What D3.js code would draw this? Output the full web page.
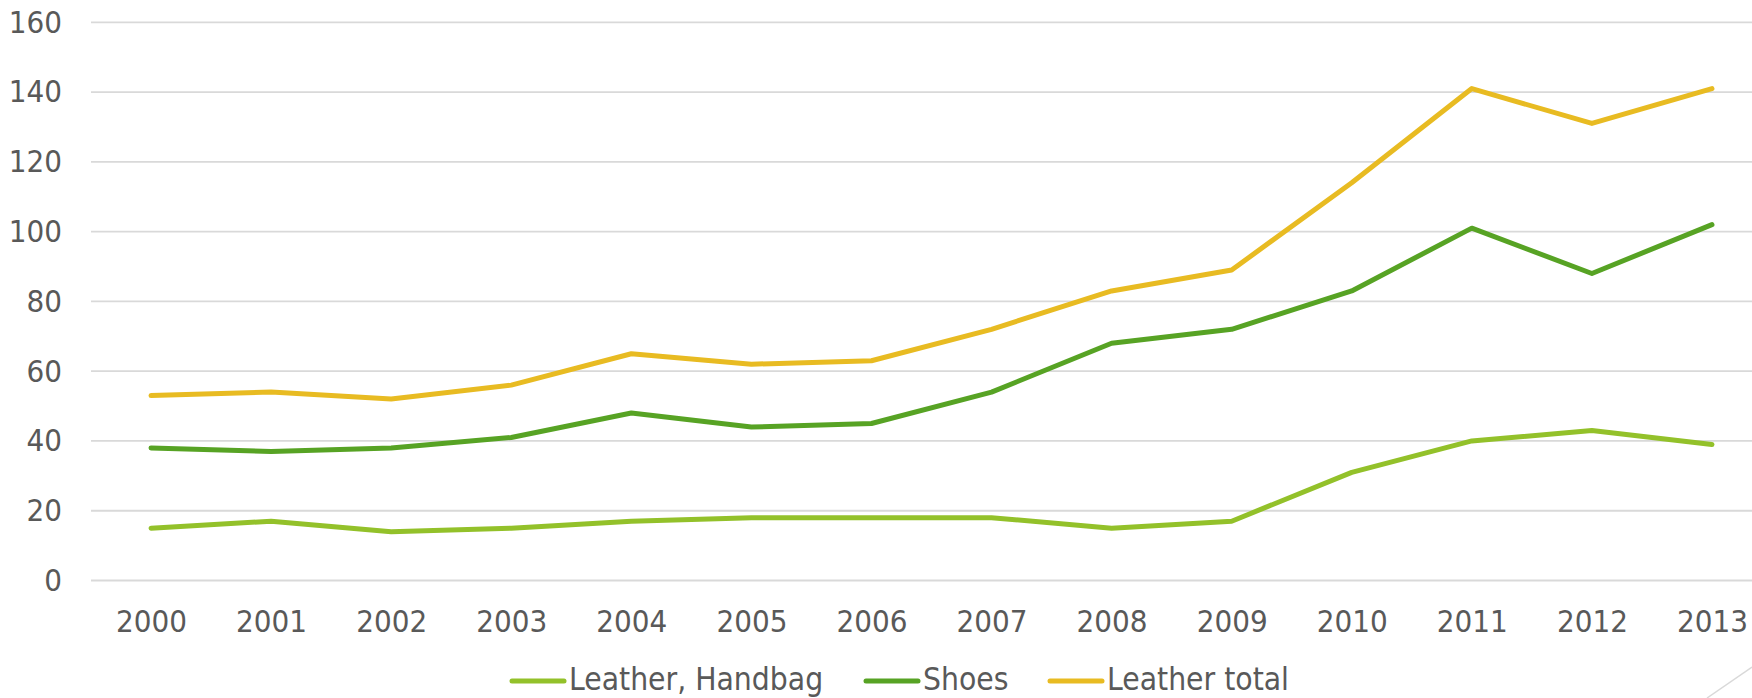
<!DOCTYPE html>
<html>
<head>
<meta charset="utf-8">
<script src="https://cdn.jsdelivr.net/npm/d3@7"></script>
<style>
  html, body { margin: 0; padding: 0; background: #fff; }
  svg { display: block; }
  text { font-family: "DejaVu Sans Condensed", "DejaVu Sans", sans-serif; fill: #595959; }
</style>
</head>
<body>
<svg id="chart" width="1752" height="698"></svg>
<script>
const years = ["2000","2001","2002","2003","2004","2005","2006","2007","2008","2009","2010","2011","2012","2013"];
const handbag = [15, 17, 14, 15, 17, 18, 18, 18, 15, 17, 31, 40, 43, 39];
const shoes = [38, 37, 38, 41, 48, 44, 45, 54, 68, 72, 83, 101, 88, 102];
const leatherTotal = [53, 54, 52, 56, 65, 62, 63, 72, 83, 89, 114, 141, 131, 141];
const yTicks = [0, 20, 40, 60, 80, 100, 120, 140, 160];
const seriesNames = ["Leather, Handbag", "Shoes", "Leather total"];
const seriesColors = ["#93c12a", "#57a324", "#e8bb22"];

const series = [handbag, shoes, leatherTotal].map((vals, i) => ({
  name: seriesNames[i], color: seriesColors[i], values: vals
}));

const W = 1752, H = 698;
const plotLeft = 91, plotRight = 1772, plotTop = 22.3, plotBottom = 580.5;
const FONT = '"DejaVu Sans Condensed", "DejaVu Sans", sans-serif';
const svg = d3.select("#chart");

const x = d3.scalePoint().domain(years).range([plotLeft, plotRight]).padding(0.5);
const y = d3.scaleLinear().domain([0, 160]).range([plotBottom, plotTop]);

// Gridlines
svg.append("g").selectAll("line").data(yTicks).join("line")
  .attr("x1", plotLeft).attr("x2", W)
  .attr("y1", d => y(d)).attr("y2", d => y(d))
  .attr("stroke", "#d9d9d9").attr("stroke-width", 1.8);

// Y axis labels
const yAxis = svg.append("g")
  .attr("transform", `translate(62,0)`)
  .call(d3.axisLeft(y).tickValues(yTicks).tickSize(0).tickPadding(0));
yAxis.select(".domain").remove();
yAxis.selectAll(".tick line").remove();
yAxis.selectAll(".tick text").attr("font-size", 31).attr("fill", "#595959")
  .attr("font-family", FONT);

// X axis labels
const xAxis = svg.append("g")
  .attr("transform", `translate(0,${plotBottom})`)
  .call(d3.axisBottom(x).tickSize(0).tickPadding(29));
xAxis.select(".domain").remove();
xAxis.selectAll(".tick text").attr("font-size", 31).attr("fill", "#595959")
  .attr("font-family", FONT);

// Lines
const line = d3.line().x((d, i) => x(years[i])).y(d => y(d));
svg.append("g").selectAll("path").data(series).join("path")
  .attr("d", d => line(d.values))
  .attr("fill", "none")
  .attr("stroke", d => d.color)
  .attr("stroke-width", 5)
  .attr("stroke-linecap", "round")
  .attr("stroke-linejoin", "round");

// Legend
const legendX = [512, 866, 1050];
const legendY = 679;
const lg = svg.append("g").selectAll("g").data(series).join("g")
  .attr("transform", (d, i) => `translate(${legendX[i]},${legendY})`);
lg.append("line").attr("x1", 0).attr("x2", 52).attr("y1", 2).attr("y2", 2)
  .attr("stroke", d => d.color).attr("stroke-width", 5).attr("stroke-linecap", "round");
lg.append("text").attr("x", 57).attr("y", 0).attr("dy", "0.34em")
  .attr("font-size", 31.5).attr("font-family", FONT).text(d => d.name);

// Slide decoration in bottom-right corner
svg.append("line").attr("x1", 1707).attr("y1", 698).attr("x2", 1752).attr("y2", 667)
  .attr("stroke", "#d9d9d9").attr("stroke-width", 1.5);
</script>
</body>
</html>
